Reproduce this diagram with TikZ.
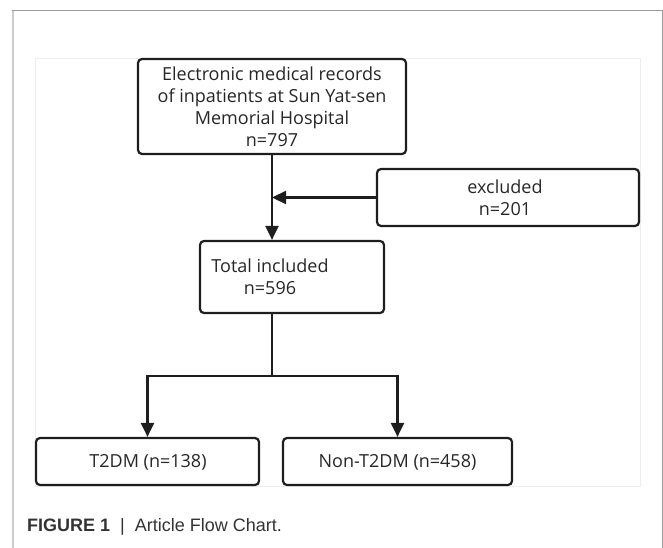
\documentclass[tikz,border=0pt]{standalone}
\usepackage{fontspec}
\setmainfont{Open Sans}
\newfontfamily\capfont{Liberation Sans}
\usetikzlibrary{arrows.meta}
\definecolor{boxline}{HTML}{1E1E1E}
\definecolor{framegray}{HTML}{9A9A9A}
\definecolor{leftgray}{HTML}{CCCCCC}
\definecolor{innergray}{HTML}{EEEEEE}
\tikzset{
  flowbox/.style={draw=boxline, line width=2.2pt, rounded corners=4pt, inner sep=0pt},
  flowtext/.style={font=\fontsize{18}{22}\selectfont, text=black!85, align=center, inner sep=0pt},
  conn/.style={draw=boxline, line width=2.2pt},
  arr/.style={conn, -{Triangle[length=14pt,width=13pt]}}
}
\begin{document}
\begin{tikzpicture}[x=1pt,y=-1pt]
\useasboundingbox (0,0) rectangle (663,548);
% outer frame
\draw[framegray, line width=1pt] (12,11) -- (662,11) -- (662,548);
\draw[leftgray, line width=2.5pt] (13,11) -- (13,548);
% inner image area
\draw[innergray, line width=0.8pt] (35,58) rectangle (640,486);
% boxes
\node[flowbox, minimum width=268pt, minimum height=95pt] (top) at (272,106.5) {};
\node[flowtext] (toptxt) at (272,107) {Electronic medical records\\of inpatients at Sun Yat-sen\\Memorial Hospital\\n=797};
\node[flowbox, minimum width=262pt, minimum height=57pt] (excl) at (508,197.5) {};
\node[flowtext] (excltxt) at (505,198) {excluded\\n=201};
\node[flowbox, minimum width=184pt, minimum height=72pt] (total) at (292,277) {};
\node[flowtext] (totaltxt) at (270,277) {Total included\\n=596};
\node[flowbox, minimum width=223pt, minimum height=47pt] (t2dm) at (147.5,461.5) {};
\node[flowtext] (t2dmtxt) at (148,462) {T2DM (n=138)};
\node[flowbox, minimum width=229pt, minimum height=47pt] (non) at (397.5,461.5) {};
\node[flowtext] (nontxt) at (397.5,462) {Non-T2DM (n=458)};
% connectors
\draw[arr] (top.south) -- (top.south |- total.north);
\draw[arr] (excl.west) -- (top.south |- excl.west);
\coordinate (split) at (272,376);
\draw[conn] (top.south |- total.south) -- (split);
\draw[arr] (split) -| (t2dm.north);
\draw[arr] (split) -| (non.north);
% caption
\node[anchor=west, inner sep=0pt, font=\capfont\fontsize{18}{20}\selectfont, text=black!80] (caption) at (27,527) {\textbf{FIGURE 1}\ \ |\ \ Article Flow Chart.};
\end{tikzpicture}
\end{document}
